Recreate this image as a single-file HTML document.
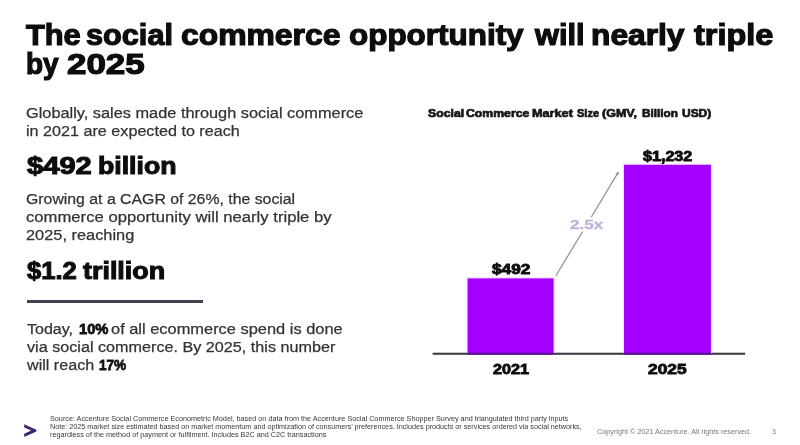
<!DOCTYPE html>
<html lang="en">
<head>
<meta charset="utf-8">
<title>The social commerce opportunity will nearly triple by 2025</title>
<style>
html,body{margin:0;padding:0;background:#fff;}
body{width:800px;height:445px;position:relative;overflow:hidden;font-family:"Liberation Sans", Arial, Helvetica, sans-serif;}
.slide{position:absolute;left:0;top:0;width:800px;height:445px;background:#fff;overflow:hidden;filter:blur(0.45px);}
.slide h1,.slide p,.slide div{margin:0;padding:0;font-size:inherit;font-weight:inherit;}
.t{position:absolute;display:block;white-space:nowrap;line-height:1;transform-origin:0 0;}
.title .t{font-weight:700;color:#0d0d0d;-webkit-text-stroke:1.2px #0d0d0d;}
.big .t{font-weight:700;color:#0d0d0d;-webkit-text-stroke:1px #0d0d0d;}
.body .t{color:#333;-webkit-text-stroke:0.25px #333;}
.body b{font-weight:700;color:#111;-webkit-text-stroke:0.8px #111;}
.foot .t{color:#383838;}
.ctitle .t{font-weight:700;color:#161616;-webkit-text-stroke:0.7px #161616;}
.clabel .t{font-weight:700;color:#0d0d0d;-webkit-text-stroke:0.9px #0d0d0d;}
.cmult .t{font-weight:700;color:#bfb0da;-webkit-text-stroke:0.3px #bfb0da;}
.copy .t{color:#777;}
.rule{position:absolute;left:27px;top:300.4px;width:175.5px;height:2.7px;background:#453e4d;}
svg{position:absolute;left:0;top:0;}
</style>
</head>
<body>
<div class="slide">
<svg width="800" height="445" viewBox="0 0 800 445">
<rect x="432.7" y="352.7" width="312.4" height="2.1" fill="#3f3b45"/>
<rect x="466.4" y="277.2" width="88.4" height="75.5" fill="#f7dcff"/>
<rect x="622.8" y="163.6" width="89.3" height="189.1" fill="#f7dcff"/>
<rect x="467.6" y="278.4" width="86" height="75" fill="#a300ff"/>
<rect x="624" y="164.8" width="86.9" height="188.6" fill="#a300ff"/>
<rect x="467.6" y="352.7" width="86" height="2.1" fill="#5c1399"/>
<rect x="624" y="352.7" width="86.9" height="2.1" fill="#5c1399"/>
<line x1="555.8" y1="276" x2="617.6" y2="173.4" stroke="#96919c" stroke-width="1.25"/>
<path d="M618.9 171.2 L618.5 175.6 L615.4 173.8 Z" fill="#96919c"/>
<rect x="568" y="217" width="37" height="14.5" fill="#fff"/>
<path d="M24.2 424.2 L36.4 429.8 L36.4 431.4 L24.2 437 L24.2 433.8 L31.2 430.6 L24.2 427.4 Z" fill="#40266e"/>
</svg>
<div class="rule"></div>
<h1 class="title">
<span id="t1a" class="t" style="left:25.76px;top:20.28px;font-size:29.5px;transform:scaleX(1.0431)">The</span>
<span id="t1b" class="t" style="left:86.48px;top:20.28px;font-size:29.5px;transform:scaleX(1.0398)">social</span>
<span id="t1c" class="t" style="left:181.46px;top:20.28px;font-size:29.5px;transform:scaleX(1.0801)">commerce</span>
<span id="t1d" class="t" style="left:349.47px;top:20.28px;font-size:29.5px;transform:scaleX(1.0656)">opportunity</span>
<span id="t1e" class="t" style="left:534.53px;top:20.28px;font-size:29.5px;transform:scaleX(1.0428)">will</span>
<span id="t1f" class="t" style="left:591.16px;top:20.28px;font-size:29.5px;transform:scaleX(1.0756)">nearly</span>
<span id="t1g" class="t" style="left:694.03px;top:20.28px;font-size:29.5px;transform:scaleX(1.1007)">triple</span>
<span id="t2a" class="t" style="left:25.82px;top:48.53px;font-size:29.5px;transform:scaleX(0.9478)">by</span>
<span id="t2b" class="t" style="left:67.41px;top:48.53px;font-size:29.5px;transform:scaleX(1.1846)">2025</span>
</h1>
<p class="body">
<span id="b1" class="t" style="left:26.19px;top:105.03px;font-size:15.2px;transform:scaleX(1.0752)">Globally, sales made through social commerce</span>
<span id="b2" class="t" style="left:25.94px;top:122.93px;font-size:15.2px;transform:scaleX(1.0638)">in 2021 are expected to reach</span>
</p>
<div class="big">
<span id="h1a" class="t" style="left:27.00px;top:154.78px;font-size:23px;transform:scaleX(1.2660)">$492</span>
<span id="h1b" class="t" style="left:97.59px;top:154.78px;font-size:23px;transform:scaleX(1.1597)">billion</span>
</div>
<p class="body">
<span id="b3" class="t" style="left:26.22px;top:190.73px;font-size:15.2px;transform:scaleX(1.0419)">Growing at a CAGR of 26%, the social</span>
<span id="b4" class="t" style="left:26.45px;top:208.73px;font-size:15.2px;transform:scaleX(1.0971)">commerce opportunity will nearly triple by</span>
<span id="b5" class="t" style="left:26.19px;top:227.23px;font-size:15.2px;transform:scaleX(1.0778)">2025, reaching</span>
</p>
<div class="big">
<span id="h2a" class="t" style="left:27.00px;top:260.28px;font-size:23px;transform:scaleX(1.1130)">$1.2</span>
<span id="h2b" class="t" style="left:82.79px;top:260.28px;font-size:23px;transform:scaleX(1.1691)">trillion</span>
</div>
<p class="body">
<span id="b6a" class="t" style="left:27.29px;top:320.73px;font-size:15.2px;transform:scaleX(1.0533)">Today,</span>
<span id="b6b" class="t" style="left:78.86px;top:320.73px;font-size:15.2px;transform:scaleX(0.9667)"><b>10%</b></span>
<span id="b6c" class="t" style="left:110.90px;top:320.73px;font-size:15.2px;transform:scaleX(1.0804)">of all ecommerce spend is done</span>
<span id="b7" class="t" style="left:26.73px;top:339.13px;font-size:15.2px;transform:scaleX(1.0648)">via social commerce. By 2025, this number</span>
<span id="b8a" class="t" style="left:27.29px;top:357.13px;font-size:15.2px;transform:scaleX(1.0618)">will reach</span>
<span id="b8b" class="t" style="left:99.05px;top:357.13px;font-size:15.2px;transform:scaleX(0.8908)"><b>17%</b></span>
</p>
<div class="foot">
<span id="f1" class="t" style="left:49.94px;top:415.55px;font-size:6.5px;transform:scaleX(1.1153)">Source: Accenture Social Commerce Econometric Model, based on data from the Accenture Social Commerce Shopper Survey and triangulated third party inputs</span>
<span id="f2" class="t" style="left:49.94px;top:423.75px;font-size:6.5px;transform:scaleX(1.1104)">Note: 2025 market size estimated based on market momentum and optimization of consumers’ preferences. Includes products or services ordered via social networks,</span>
<span id="f3" class="t" style="left:50.22px;top:431.95px;font-size:6.5px;transform:scaleX(1.1152)">regardless of the method of payment or fulfilment. Includes B2C and C2C transactions</span>
</div>
<div class="copy">
<span id="c1" class="t" style="left:596.72px;top:428.75px;font-size:6.5px;transform:scaleX(1.1127)">Copyright © 2021 Accenture. All rights reserved.</span>
<span id="c2" class="t" style="left:771.73px;top:428.75px;font-size:6.5px;transform:scaleX(1.0769)">3</span>
</div>
<div class="ctitle">
<span id="ct1" class="t" style="left:427.50px;top:107.67px;font-size:11.5px;transform:scaleX(1.0657)">Social</span>
<span id="ct2" class="t" style="left:465.73px;top:107.67px;font-size:11.5px;transform:scaleX(1.0644)">Commerce</span>
<span id="ct3" class="t" style="left:531.87px;top:107.67px;font-size:11.5px;transform:scaleX(1.1027)">Market</span>
<span id="ct4" class="t" style="left:577.00px;top:107.67px;font-size:11.5px;transform:scaleX(0.9565)">Size</span>
<span id="ct5" class="t" style="left:602.29px;top:107.67px;font-size:11.5px;transform:scaleX(1.0898)">(GMV,</span>
<span id="ct6" class="t" style="left:642.49px;top:107.67px;font-size:11.5px;transform:scaleX(1.0219)">Billion</span>
<span id="ct7" class="t" style="left:682.04px;top:107.67px;font-size:11.5px;transform:scaleX(1.0400)">USD)</span>
</div>
<div class="clabel">
<span id="cl1" class="t" style="left:492.08px;top:261.93px;font-size:14.5px;transform:scaleX(1.1891)">$492</span>
<span id="cl2" class="t" style="left:643.21px;top:148.93px;font-size:14.5px;transform:scaleX(1.1107)">$1,232</span>
<span id="cl3" class="t" style="left:492.75px;top:361.93px;font-size:14.5px;transform:scaleX(1.1163)">2021</span>
<span id="cl4" class="t" style="left:648.00px;top:361.93px;font-size:14.5px;transform:scaleX(1.1938)">2025</span>
</div>
<div class="cmult">
<span id="cm1" class="t" style="left:570.18px;top:217.57px;font-size:13.5px;transform:scaleX(1.2621)">2.5x</span>
</div>
</div>
</body>
</html>
